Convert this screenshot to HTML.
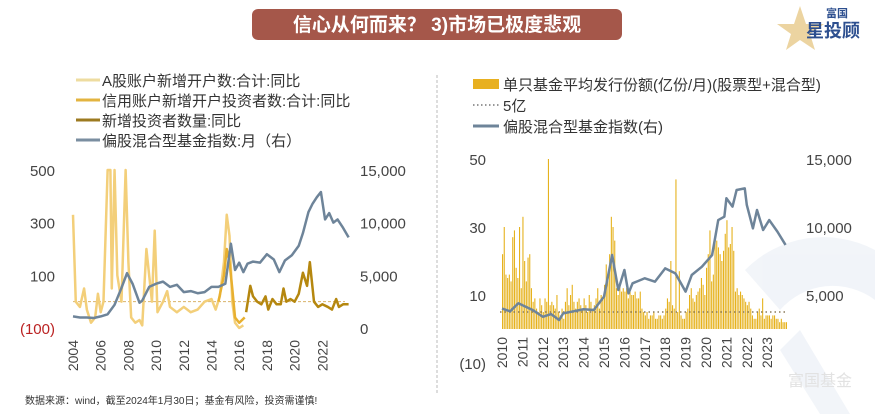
<!DOCTYPE html>
<html><head><meta charset="utf-8">
<style>
body{margin:0;background:#fff;font-family:"Liberation Sans","Noto Sans CJK SC",sans-serif;}
#wrap{position:relative;width:875px;height:414px;overflow:hidden;background:#fff;}
svg text{font-family:"Liberation Sans","Noto Sans CJK SC",sans-serif;}
</style></head><body>
<div id="wrap">
<svg id="svg" width="875" height="414" viewBox="0 0 875 414">
  <g opacity="0.08">
    <path d="M745 270 A110 110 0 0 1 875 250 L875 300 A70 70 0 0 0 780 310 Z" fill="#5b7fb8"/>
    <path d="M800 330 L850 414 L820 414 L780 350 Z" fill="#5b7fb8"/>
  </g>
  <text x="820" y="386" font-size="16" fill="#e2e2e2" text-anchor="middle">富国基金</text>
  <rect x="252" y="9" width="370" height="31" rx="6" fill="#a5574a"/>
  <text x="437" y="31" font-size="19" font-weight="bold" fill="#fff" text-anchor="middle">信心从何而来？ 3)市场已极度悲观</text>
  <g>
    <polygon points="800,6 806,24 824,24 810,34 815,50 800,40 786,50 791,34 777,24 794,24" fill="#e7c98a" opacity="0.8"/>
    <text x="826" y="17" font-size="11" font-weight="bold" fill="#2d4f8f">富国</text>
    <text x="806" y="37" font-size="18" font-weight="bold" fill="#2d4f8f">星投顾</text>
  </g>
  <line x1="437" y1="75" x2="437" y2="395" stroke="#bbb" stroke-dasharray="3,2"/>
  <g id="legL"></g>
  <g id="legR"></g>
  <g id="left"></g>
  <g id="right"></g>
  <text x="25" y="404" font-size="10" fill="#333">数据来源：wind，截至2024年1月30日；基金有风险，投资需谨慎!</text>
</svg>
</div>
<script>
// ---------- LEFT CHART DATA ----------
const leftYears=[2004,2006,2008,2010,2012,2014,2016,2018,2020,2022];
const leftLeftTicks=[500,300,100,-100];
const leftLeftTickLabels=["500","300","100","(100)"];
const leftRightTicks=[15000,10000,5000,0];
const leftRightTickLabels=["15,000","10,000","5,000","0"];
const aShareT=[2004.0,2004.2,2004.5,2004.8,2005.0,2005.3,2005.6,2005.8,2006.0,2006.2,2006.5,2006.7,2006.8,2007.0,2007.2,2007.5,2007.8,2008.0,2008.2,2008.5,2008.8,2009.0,2009.3,2009.5,2009.7,2009.9,2010.1,2010.5,2010.8,2011.0,2011.5,2012.0,2012.5,2013.0,2013.5,2014.0,2014.3,2014.6,2014.9,2015.1,2015.3,2015.5,2015.7,2016.0,2016.3];
const aShareV=[330,0,-20,50,-30,-80,-60,30,-40,0,500,500,50,500,100,0,500,150,-60,-80,-70,-90,200,100,0,270,-40,0,40,-20,-40,-20,-40,-30,0,10,-30,20,150,330,250,0,-80,-100,-90];
const creditT=[2014.5,2014.9,2015.1,2015.3,2015.5,2015.7,2016.0,2016.4];
const creditV=[0,100,200,150,50,-60,-80,-60];
const newInvT=[2016.5,2016.8,2017.0,2017.3,2017.6,2017.9,2018.1,2018.4,2018.7,2019.0,2019.2,2019.4,2019.7,2020.0,2020.3,2020.6,2020.9,2021.1,2021.4,2021.7,2022.0,2022.4,2022.7,2023.0,2023.2,2023.5,2023.9];
const newInvV=[-40,60,20,0,-10,20,-30,10,-10,-10,50,0,10,0,30,110,60,150,0,-20,-10,-20,-30,10,-20,-10,-10];
const idxLT=[2004.0,2004.5,2005.0,2005.5,2006.0,2006.5,2007.0,2007.5,2007.9,2008.3,2008.8,2009.0,2009.5,2010.0,2010.5,2011.0,2011.5,2012.0,2012.5,2013.0,2013.5,2014.0,2014.5,2015.0,2015.4,2015.7,2016.0,2016.3,2016.6,2017.0,2017.5,2018.0,2018.5,2018.9,2019.3,2019.8,2020.3,2020.6,2021.0,2021.3,2021.6,2021.9,2022.2,2022.5,2022.8,2023.1,2023.5,2023.9];
const idxLV=[1100,1000,1000,950,1100,1300,2200,3800,5200,4200,2400,2600,3900,4200,4400,3900,4100,3400,3500,3300,3400,3900,3900,4200,8000,5500,6200,5300,6100,6300,6200,7000,6500,5300,6400,6900,7800,9000,11000,11800,12400,12900,10300,10900,10000,10300,9500,8600];
// ---------- RIGHT CHART DATA ----------
const rightYears=[2010,2011,2012,2013,2014,2015,2016,2017,2018,2019,2020,2021,2022,2023];
const rightLeftTicks=[50,30,10,-10];
const rightLeftTickLabels=["50","30","10","(10)"];
const rightRightTicks=[15000,10000,5000];
const rightRightTickLabels=["15,000","10,000","5,000"];
const fundIssue=[
22,30,16,15,16,14,27,29,18,15,30,12,
33,20,14,21,22,12,8,9,6,5,9,7,
5,9,8,50,7,8,7,6,10,5,4,6,
3,8,12,7,10,13,8,6,8,9,7,6,
9,7,5,10,8,6,7,9,12,6,10,9,
13,19,15,22,33,30,26,12,10,13,11,12,
11,12,9,11,10,10,11,9,9,11,6,5,
4,5,3,4,4,5,3,3,4,4,3,4,
6,9,8,20,7,6,44,5,17,4,3,3,
5,6,10,12,9,8,10,11,12,15,13,10,
18,22,29,14,16,28,26,24,22,20,23,28,
32,24,25,30,23,11,12,10,11,10,9,8,
7,8,6,4,3,3,5,6,4,9,3,4,
4,4,3,4,4,3,3,2,3,2,2,2];
const refLine=[5];
const idxRT=[2010.0,2010.4,2010.8,2011.5,2012.0,2012.4,2012.8,2013.0,2013.5,2014.0,2014.5,2015.0,2015.4,2015.7,2016.0,2016.2,2016.4,2017.0,2017.5,2018.0,2018.5,2019.0,2019.3,2019.8,2020.3,2020.6,2020.9,2021.0,2021.3,2021.5,2021.9,2022.0,2022.3,2022.5,2022.8,2023.1,2023.5,2023.9];
const idxRV=[4000,3800,4390,3900,3400,3600,3160,3650,3800,3950,3900,4880,7940,5370,6840,5120,5860,6230,5980,6960,6590,5250,6470,7080,7940,10510,10760,12110,11500,12720,12840,11620,9900,11250,9780,10510,9660,8680];

const NS="http://www.w3.org/2000/svg";
function mk(parent,tag,attrs){const e=document.createElementNS(NS,tag);for(const k in attrs)e.setAttribute(k,attrs[k]);parent.appendChild(e);return e;}

// left axes
const L=document.getElementById('left');
const lx=t=>73+(t-2004)*13.85;
const ly=v=>328-(v+100)*0.2633;
const lr=v=>328-v*0.01054;
leftLeftTicks.forEach((v,i)=>{const t=mk(L,'text',{x:55,y:ly(v)+6,'font-size':15,fill:v<0?'#b22':'#444','text-anchor':'end'});t.textContent=leftLeftTickLabels[i];

});
leftRightTicks.forEach((v,i)=>{const t=mk(L,'text',{x:360,y:lr(v)+6,'font-size':15,fill:'#444'});t.textContent=leftRightTickLabels[i];

});
leftYears.forEach(y=>{const t=mk(L,'text',{x:0,y:0,'font-size':14,fill:'#444','text-anchor':'end',transform:`translate(${lx(y)+5},340) rotate(-90)`});t.textContent=y;

});
const z0=mk(L,'line',{x1:73,x2:345,y1:ly(0),y2:ly(0),stroke:'#d9b36a','stroke-dasharray':'3,2'});


function poly(parent,ts,vs,fx,fy,color,w,name){const p=mk(parent,'polyline',{points:ts.map((t,i)=>fx(t)+','+fy(vs[i])).join(' '),fill:'none',stroke:color,'stroke-width':w,'stroke-linejoin':'round'});

}
poly(L,aShareT,aShareV,lx,ly,'#f3cf7a',2.5,'a-share-new-accounts-line');
poly(L,creditT,creditV,lx,ly,'#e8b030',2.5,'credit-new-accounts-line');
poly(L,newInvT,newInvV,lx,ly,'#b5870f',2.5,'new-investors-line');
poly(L,idxLT,idxLV,lx,lr,'#6e8499',2.5,'left-fund-index-line');

// right axes
const R=document.getElementById('right');
const rx=t=>502+(t-2010)*20.4;
const ry=v=>329-v*3.4;
const rr=v=>363-v*0.0136;
rightLeftTicks.forEach((v,i)=>{const t=mk(R,'text',{x:486,y:ry(v)+6,'font-size':15,fill:'#444','text-anchor':'end'});t.textContent=rightLeftTickLabels[i];

});
rightRightTicks.forEach((v,i)=>{const t=mk(R,'text',{x:806,y:rr(v)+6,'font-size':15,fill:'#444'});t.textContent=rightRightTickLabels[i];

});
rightYears.forEach(y=>{const t=mk(R,'text',{x:0,y:0,'font-size':14,fill:'#444','text-anchor':'end',transform:`translate(${rx(y)+5},337) rotate(-90)`});t.textContent=y;

});
fundIssue.forEach((v,i)=>{const t=2010+i/12;const b=mk(R,'rect',{x:rx(t),y:ry(v),width:1.1,height:ry(0)-ry(v),fill:'#e6b21e'});

});
const rl=mk(R,'line',{x1:500,x2:785,y1:ry(refLine[0]),y2:ry(refLine[0]),stroke:'#8a7a5a','stroke-width':1.5,'stroke-dasharray':'1.5,3'});


poly(R,idxRT,idxRV,rx,rr,'#6e8499',2.5,'right-fund-index-line');

// legends
const LL=document.getElementById('legL');
[['#eedca0','A股账户新增开户数:合计:同比'],['#e3b440','信用账户新增开户投资者数:合计:同比'],['#9c7a20','新增投资者数量:同比'],['#7a8ea0','偏股混合型基金指数:月（右）']].forEach((d,i)=>{
const g=mk(LL,'g',{});


mk(g,'line',{x1:76,x2:100,y1:80+i*20,y2:80+i*20,stroke:d[0],'stroke-width':3});
const t=mk(g,'text',{x:102,y:86+i*20,'font-size':15,fill:'#333'});t.textContent=d[1];});
const LR=document.getElementById('legR');
[['bar','单只基金平均发行份额(亿份/月)(股票型+混合型)'],['dot','5亿'],['line','偏股混合型基金指数(右)']].forEach((d,i)=>{
const g=mk(LR,'g',{});


const y=84+i*21;
if(d[0]==='bar')mk(g,'rect',{x:473,y:y-5,width:26,height:10,fill:'#e8b020'});
else if(d[0]==='dot')mk(g,'line',{x1:473,x2:499,y1:y,y2:y,stroke:'#777','stroke-width':1.5,'stroke-dasharray':'1.5,2.5'});
else mk(g,'line',{x1:473,x2:499,y1:y,y2:y,stroke:'#6e8499','stroke-width':3});
const t=mk(g,'text',{x:503,y:y+6,'font-size':15,fill:'#333'});t.textContent=d[1];});
</script>
</body></html>
